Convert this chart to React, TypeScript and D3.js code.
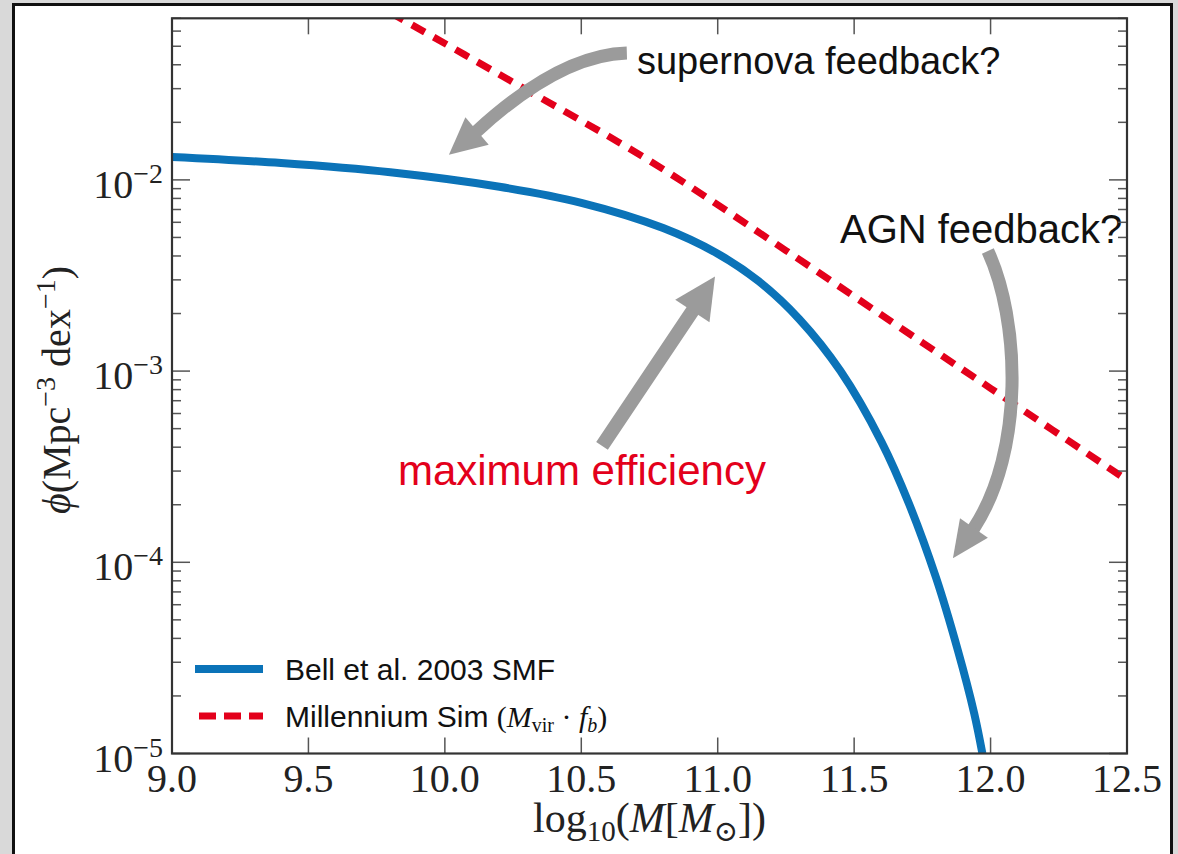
import React from 'react';
import * as d3 from 'd3';

// Bell et al. (2003) stellar mass function, log10(M/Msun) vs phi [Mpc^-3 dex^-1]
const bellLogMass = [9.0, 9.4, 9.8, 10.2, 10.5, 10.8, 11.0, 11.15, 11.3, 11.45, 11.6, 11.7, 11.8, 11.88, 11.94, 11.97];
const bellPhi = [0.01318, 0.01225, 0.01096, 0.009204, 0.007586, 0.005598, 0.004111, 0.002951, 0.001862, 0.001, 0.0004266, 0.0002042, 8.318e-5, 3.467e-5, 1.622e-5, 1.0e-5];

// Millennium halo mass function scaled by the baryon fraction
const simLogMass = [9.8, 10.25, 10.75, 11.25, 11.75, 12.0, 12.5];
const simPhi = [0.0750, 0.0324, 0.0126, 0.00427, 0.00141, 0.000813, 0.000269];

const xTickValues = [9.0, 9.5, 10.0, 10.5, 11.0, 11.5, 12.0, 12.5];
const yDecades = [-5, -4, -3, -2];

// Annotation arrows in data coordinates: shaft points (start, controls, head base) and tip
const snArrow = { shaft: [[10.667, 0.04613], [10.422, 0.04508], [10.118, 0.01803]], tip: [10.015, 0.01352], width: 13, head: 36 };
const effArrow = { shaft: [[10.576, 4.06e-4], [10.907, 2.06e-3]], tip: [10.99, 3.12e-3], width: 14, head: 41 };
const agnArrow = { shaft: [[11.99, 4.25e-3], [12.107, 1.85e-3], [12.126, 3.86e-4], [11.939, 1.51e-4]], tip: [11.862, 1.05e-4], width: 13, head: 34 };

const annotations = [
  { text: 'supernova feedback?', x: 10.704, y: 0.0358, size: 38, color: '#111' },
  { text: 'AGN feedback?', x: 11.448, y: 4.68e-3, size: 40, color: '#111' },
  { text: 'maximum efficiency', x: 9.828, y: 2.54e-4, size: 42, color: '#e3001b' },
];

const W = 1178;
const H = 854;
const PL = 172, PR = 1127, PT = 18.3, PB = 753.5;

const BLUE = '#0b73b8';
const RED = '#e3001b';
const ARROW = '#9b9b9b';
const SERIF = '"Liberation Serif", "DejaVu Serif", serif';
const SANS = '"Liberation Sans", Arial, sans-serif';

export default function App() {
  const x = d3.scaleLinear().domain([9, 12.5]).range([PL, PR]);
  const y = d3.scaleLog().domain([1e-5, 7e-2]).range([PB, PT]);

  const line = d3
    .line<[number, number]>()
    .x((d) => x(d[0]))
    .y((d) => y(d[1]))
    .curve(d3.curveCatmullRom.alpha(0.5));
  const bellData = bellLogMass.map((m, i) => [m, bellPhi[i]] as [number, number]);
  const simData = simLogMass.map((m, i) => [m, simPhi[i]] as [number, number]);

  const majorY = yDecades.map((d) => Math.pow(10, d));
  const minorY: number[] = [];
  yDecades.forEach((d) => {
    for (let k = 2; k <= 9; k++) {
      const v = k * Math.pow(10, d);
      if (v <= 7.0001e-2) minorY.push(v);
    }
  });

  const drawArrow = (a: { shaft: number[][]; tip: number[]; width: number; head: number }, key: string) => {
    const pts = a.shaft.map((p) => [x(p[0]), y(p[1])]);
    const tip = [x(a.tip[0]), y(a.tip[1])];
    let d = `M${pts[0][0]},${pts[0][1]}`;
    if (pts.length === 2) d += `L${pts[1][0]},${pts[1][1]}`;
    else if (pts.length === 3) d += `Q${pts[1][0]},${pts[1][1]} ${pts[2][0]},${pts[2][1]}`;
    else d += `C${pts[1][0]},${pts[1][1]} ${pts[2][0]},${pts[2][1]} ${pts[3][0]},${pts[3][1]}`;
    const base = pts[pts.length - 1];
    const dx = tip[0] - base[0];
    const dy = tip[1] - base[1];
    const len = Math.hypot(dx, dy);
    const nx = -dy / len;
    const ny = dx / len;
    const h = a.head / 2;
    // extend shaft slightly under the head so there is no seam
    const ext = [base[0] + (dx / len) * 3, base[1] + (dy / len) * 3];
    const tri = `M${tip[0]},${tip[1]}L${base[0] + nx * h},${base[1] + ny * h}L${base[0] - nx * h},${base[1] - ny * h}Z`;
    return (
      <g key={key}>
        <path d={d + `L${ext[0]},${ext[1]}`} fill="none" stroke={ARROW} strokeWidth={a.width} />
        <path d={tri} fill={ARROW} />
      </g>
    );
  };

  return (
    <svg width={W} height={H} style={{ position: 'absolute', left: 0, top: 0, display: 'block' }}>
      <defs>
        <clipPath id="plotArea">
          <rect x={PL} y={PT} width={PR - PL} height={PB - PT} />
        </clipPath>
      </defs>
      {/* page frame */}
      <rect x={0} y={0} width={W} height={H} fill="#d9d9d9" />
      <rect x={13.5} y={4.5} width={1158} height={H + 10} fill="#fff" stroke="#111" strokeWidth={3} />

      {/* curves */}
      <g clipPath="url(#plotArea)">
        <path d={line(simData) || ''} fill="none" stroke={RED} strokeWidth={7} strokeDasharray="15 10" />
        <path d={line(bellData) || ''} fill="none" stroke={BLUE} strokeWidth={8} />
      </g>

      {/* annotation arrows */}
      {drawArrow(snArrow, 'sn')}
      {drawArrow(effArrow, 'eff')}
      {drawArrow(agnArrow, 'agn')}

      {/* annotation text */}
      {annotations.map((a) => (
        <text key={a.text} x={x(a.x)} y={y(a.y)} fontFamily={SANS} fontSize={a.size} fill={a.color}>
          {a.text}
        </text>
      ))}

      {/* ticks */}
      <g stroke="#555" strokeWidth={1.5}>
        {xTickValues.map((t) => (
          <g key={'xt' + t}>
            <line x1={x(t)} x2={x(t)} y1={PB} y2={PB - 16} />
            <line x1={x(t)} x2={x(t)} y1={PT} y2={PT + 16} />
          </g>
        ))}
        {majorY.map((t) => (
          <g key={'ymj' + t}>
            <line x1={PL} x2={PL + 18} y1={y(t)} y2={y(t)} />
            <line x1={PR} x2={PR - 18} y1={y(t)} y2={y(t)} />
          </g>
        ))}
        {minorY.map((t) => (
          <g key={'ymn' + t}>
            <line x1={PL} x2={PL + 9} y1={y(t)} y2={y(t)} />
            <line x1={PR} x2={PR - 9} y1={y(t)} y2={y(t)} />
          </g>
        ))}
      </g>

      {/* plot frame */}
      <rect x={PL} y={PT} width={PR - PL} height={PB - PT} fill="none" stroke="#333" strokeWidth={2.2} />

      {/* x tick labels */}
      {xTickValues.map((t) => (
        <text key={'xl' + t} x={x(t)} y={PB + 38} textAnchor="middle" fontFamily={SERIF} fontSize={40} fill="#222">
          {d3.format('.1f')(t)}
        </text>
      ))}

      {/* y tick labels */}
      {yDecades.map((d) => (
        <text key={'yl' + d} x={163} y={y(Math.pow(10, d)) + 18} textAnchor="end" fontFamily={SERIF} fontSize={40} fill="#222">
          10
          <tspan dy={-15} fontSize={28}>
            {'\u2212' + Math.abs(d)}
          </tspan>
        </text>
      ))}

      {/* axis labels */}
      <text x={(PL + PR) / 2} y={832} textAnchor="middle" fontFamily={SERIF} fontSize={42} fill="#222">
        log
        <tspan dy={9} fontSize={29}>10</tspan>
        <tspan dy={-9}>(</tspan>
        <tspan fontStyle="italic">M</tspan>
        <tspan>[</tspan>
        <tspan fontStyle="italic">M</tspan>
        <tspan dy={9} fontSize={29}>{'\u2299'}</tspan>
        <tspan dy={-9}>])</tspan>
      </text>
      <text transform="translate(70,390) rotate(-90)" textAnchor="middle" fontFamily={SERIF} fontSize={40} fill="#222">
        <tspan fontStyle="italic">{'\u03d5'}</tspan>
        <tspan>(Mpc</tspan>
        <tspan dy={-15} fontSize={28}>{'\u22123'}</tspan>
        <tspan dy={15}> dex</tspan>
        <tspan dy={-15} fontSize={28}>{'\u22121'}</tspan>
        <tspan dy={15}>)</tspan>
      </text>

      {/* legend */}
      <line x1={195} x2={263} y1={669} y2={669} stroke={BLUE} strokeWidth={8} />
      <text x={285} y={680} fontFamily={SANS} fontSize={30} fill="#111">
        Bell et al. 2003 SMF
      </text>
      <line x1={195} x2={263} y1={716} y2={716} stroke={RED} strokeWidth={7} strokeDasharray="17 8" strokeDashoffset={21} />
      <text x={285} y={727} fontFamily={SANS} fontSize={30} fill="#111">
        Millennium Sim{' '}
        <tspan fontFamily={SERIF}>(</tspan>
        <tspan fontFamily={SERIF} fontStyle="italic">M</tspan>
        <tspan fontFamily={SERIF} fontSize={20} dy={5}>vir</tspan>
        <tspan fontFamily={SERIF} dy={-5}>{' \u00b7 '}</tspan>
        <tspan fontFamily={SERIF} fontStyle="italic">f</tspan>
        <tspan fontFamily={SERIF} fontStyle="italic" fontSize={20} dy={5}>b</tspan>
        <tspan fontFamily={SERIF} dy={-5}>)</tspan>
      </text>
    </svg>
  );
}
